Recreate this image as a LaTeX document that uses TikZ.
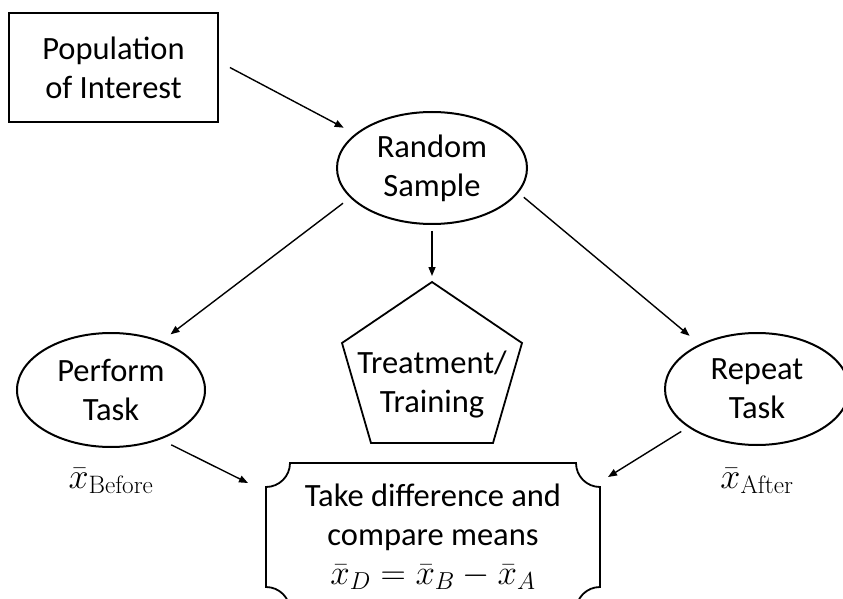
\documentclass[tikz,border=0pt]{standalone}
\usepackage{fix-cm}
\usepackage{fontspec}
\newfontfamily\calibri{Carlito}
\usetikzlibrary{shapes.geometric,arrows.meta,positioning}

\begin{document}
\begin{tikzpicture}[x=1pt,y=1pt,>={Triangle[length=9pt,width=7pt]},
    every node/.style={font=\calibri\fontsize{32.5}{39}\selectfont,align=center},
    oval/.style={ellipse,draw,line width=2pt,inner sep=0pt},
    mean/.style={font=\fontsize{36}{40}\selectfont,inner sep=0pt,anchor=base},
    link/.style={->,line width=1.4pt}]
    \useasboundingbox (0,0) rectangle (843,598);
    % shapes
    \node[rectangle,draw,line width=1.8pt,minimum width=209pt,minimum height=109pt] (pop) at (113.5,530.5) {Population\\of Interest};
    \node[oval,minimum width=190pt,minimum height=112pt] (rs) at (432,430) {Random\\Sample};
    \node[oval,minimum width=188pt,minimum height=114pt] (perform) at (111,208) {Perform\\Task};
    \node[oval,minimum width=184pt,minimum height=112pt] (rep) at (757,209) {Repeat\\Task};
    % pentagon
    \coordinate (treattop) at (432,316);
    \draw[line width=1.8pt] (treattop) -- (522,255) -- (493,155) -- (371,155) -- (342,255) -- cycle;
    \node (treat) at (432,213) {Treatment/\\Training};
    % means
    \node[mean] (before) at ([yshift=-98pt]perform.center) {$\bar{x}_{\mathrm{Before}}$};
    \node[mean] (after) at ([yshift=-99pt]rep.center) {$\bar{x}_{\mathrm{After}}$};
    % comparison box
    \node[minimum width=334pt,minimum height=148pt,outer sep=0pt] (diff) at (433,61) {Take difference and\\compare means\\{\fontsize{35}{39}\selectfont$\bar{x}_D=\bar{x}_B-\bar{x}_A$}};
    \draw[line width=1.8pt] ([xshift=24pt]diff.north west) -- ([xshift=-24pt]diff.north east)
      arc[start angle=180,end angle=270,radius=24pt] -- ([yshift=24pt]diff.south east)
      arc[start angle=90,end angle=180,radius=24pt] -- ([xshift=24pt]diff.south west)
      arc[start angle=0,end angle=90,radius=24pt] -- ([yshift=-24pt]diff.north west)
      arc[start angle=-90,end angle=0,radius=24pt] -- cycle;
    % arrows
    \draw[link,shorten >=13pt] ([xshift=11pt]pop.east) -- (rs.156);
    \draw[link,shorten <=9pt,shorten >=11pt] (rs.200) -- (perform.44);
    \draw[link,shorten <=6pt,shorten >=6pt] (rs.south) -- (treattop);
    \draw[link,shorten <=7pt,shorten >=13pt] (rs.344) -- (rep.142);
    \draw[link,shorten <=12pt] (perform.315) -- ([shift={(-18pt,-20pt)}]diff.north west);
    \draw[link,shorten <=8pt] (rep.209) -- ([shift={(8pt,-14pt)}]diff.north east);
\end{tikzpicture}
\end{document}
